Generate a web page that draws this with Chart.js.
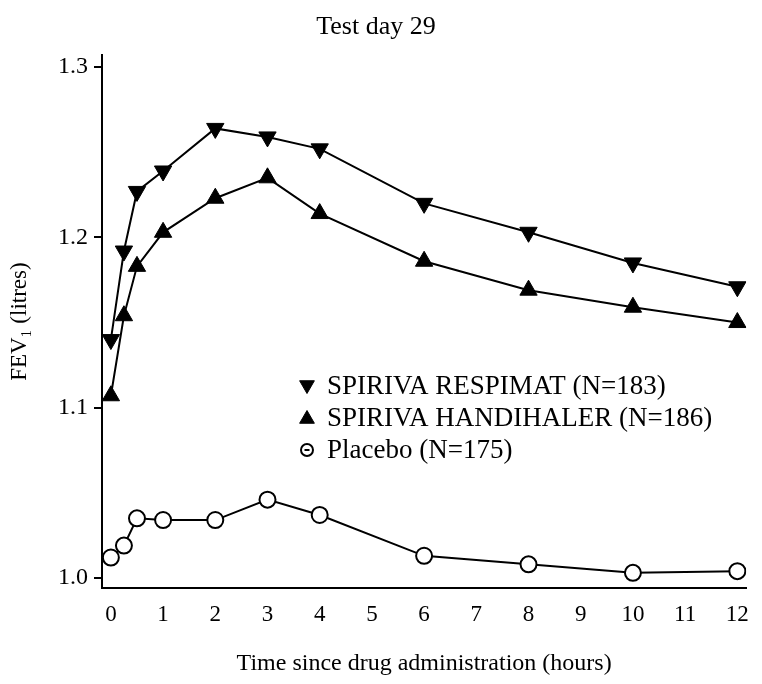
<!DOCTYPE html>
<html><head><meta charset="utf-8">
<script src="https://cdn.jsdelivr.net/npm/chart.js@4"></script>
<style>html,body{margin:0;padding:0;background:#fff}#wrap{width:762px;height:684px}</style>
</head><body><div id="wrap"><canvas id="c" width="762" height="684"></canvas></div>
<script>
const hours = [0, 0.25, 0.5, 1, 2, 3, 4, 6, 8, 10, 12];
const respimat = [1.140, 1.192, 1.227, 1.239, 1.264, 1.259, 1.252, 1.220, 1.203, 1.185, 1.171];
const handihaler = [1.107, 1.154, 1.183, 1.203, 1.223, 1.235, 1.214, 1.186, 1.169, 1.159, 1.150];
const placebo = [1.012, 1.019, 1.035, 1.034, 1.034, 1.046, 1.037, 1.013, 1.008, 1.003, 1.004];
const yTicks = [1.0, 1.1, 1.2, 1.3];
const xTicks = [0, 1, 2, 3, 4, 5, 6, 7, 8, 9, 10, 11, 12];
const seriesLabels = ['SPIRIVA RESPIMAT (N=183)', 'SPIRIVA HANDIHALER (N=186)', 'Placebo (N=175)'];
const titleText = 'Test day 29';
const xTitle = 'Time since drug administration (hours)';
const yTitle = 'FEV\u2081 (litres)';

const toXY = arr => hours.map((h, i) => ({x: h, y: arr[i]}));
const FONT = "'Liberation Serif', 'Times New Roman', serif";

const insideLegend = {
  id: 'insideLegend',
  afterDraw(chart, args, opts) {
    const ctx = chart.ctx;
    ctx.save();
    ctx.font = opts.size + 'px ' + FONT;
    ctx.textBaseline = 'middle';
    ctx.textAlign = 'left';
    chart.data.datasets.forEach((ds, i) => {
      const y = opts.y + i * opts.step;
      const mx = opts.x;
      ctx.fillStyle = '#000';
      ctx.strokeStyle = '#000';
      if (ds.legendMarker === 'down' || ds.legendMarker === 'up') {
        Chart.helpers.drawPoint(ctx, {pointStyle: 'triangle', radius: 8.5, rotation: ds.legendMarker === 'down' ? 180 : 0, borderWidth: 1}, mx, y + (ds.legendMarker === 'down' ? -1 : 1));
      } else {
        ctx.lineWidth = 2;
        ctx.fillStyle = '#fff';
        ctx.beginPath(); ctx.arc(mx, y, 6, 0, Math.PI * 2); ctx.fill(); ctx.stroke();
        ctx.beginPath(); ctx.moveTo(mx - 2.5, y); ctx.lineTo(mx + 2.5, y); ctx.stroke();
      }
      ctx.fillStyle = '#000';
      ctx.fillText(ds.label, opts.textX, y + 1);
    });
    ctx.restore();
  }
};

new Chart(document.getElementById('c'), {
  type: 'line',
  data: {
    datasets: [
      {label: seriesLabels[0], data: toXY(respimat), borderColor: '#000', backgroundColor: '#000', borderWidth: 2,
       pointStyle: 'triangle', rotation: 180, pointRadius: 10, pointBorderWidth: 1, legendMarker: 'down'},
      {label: seriesLabels[1], data: toXY(handihaler), borderColor: '#000', backgroundColor: '#000', borderWidth: 2,
       pointStyle: 'triangle', rotation: 0, pointRadius: 10, pointBorderWidth: 1, legendMarker: 'up'},
      {label: seriesLabels[2], data: toXY(placebo), borderColor: '#000', backgroundColor: '#fff', borderWidth: 2,
       pointStyle: 'circle', pointRadius: 8, pointBorderWidth: 2, legendMarker: 'circle'}
    ]
  },
  options: {
    responsive: false, animation: false, devicePixelRatio: 1,
    layout: {padding: {left: 0, right: 10, top: 0, bottom: 0}},
    plugins: {
      legend: {display: false},
      tooltip: {enabled: false},
      title: {display: true, text: titleText, color: '#000', font: {family: FONT, size: 26, weight: 'normal'}, padding: {top: 12, bottom: 12}},
      insideLegend: {x: 307, textX: 327, y: 386, step: 32, size: 27}
    },
    scales: {
      x: {
        type: 'linear', min: -0.17, max: 12.17,
        afterBuildTicks: s => { s.ticks = xTicks.map(v => ({value: v})); },
        afterFit: s => { s.height = 96; },
        ticks: {color: '#000', font: {family: FONT, size: 23}, padding: 13, maxRotation: 0, autoSkip: false},
        grid: {display: true, drawOnChartArea: false, drawTicks: false, color: '#000'},
        border: {display: true, color: '#000', width: 2},
        title: {display: true, text: xTitle, color: '#000', font: {family: FONT, size: 24}, padding: {top: 10, bottom: 6}}
      },
      y: {
        type: 'linear', min: 0.9941, max: 1.307,
        afterBuildTicks: s => { s.ticks = yTicks.map(v => ({value: v})); },
        afterFit: s => { s.width = 102; },
        ticks: {color: '#000', font: {family: FONT, size: 24}, padding: 6, callback: v => v.toFixed(1)},
        grid: {display: true, drawOnChartArea: false, drawTicks: true, tickLength: 8, color: '#000', lineWidth: 2},
        border: {display: true, color: '#000', width: 2},
        title: {display: true, text: yTitle, color: '#000', font: {family: FONT, size: 23}, padding: {top: 6, bottom: 0}}
      }
    }
  },
  plugins: [insideLegend]
});
</script></body></html>
